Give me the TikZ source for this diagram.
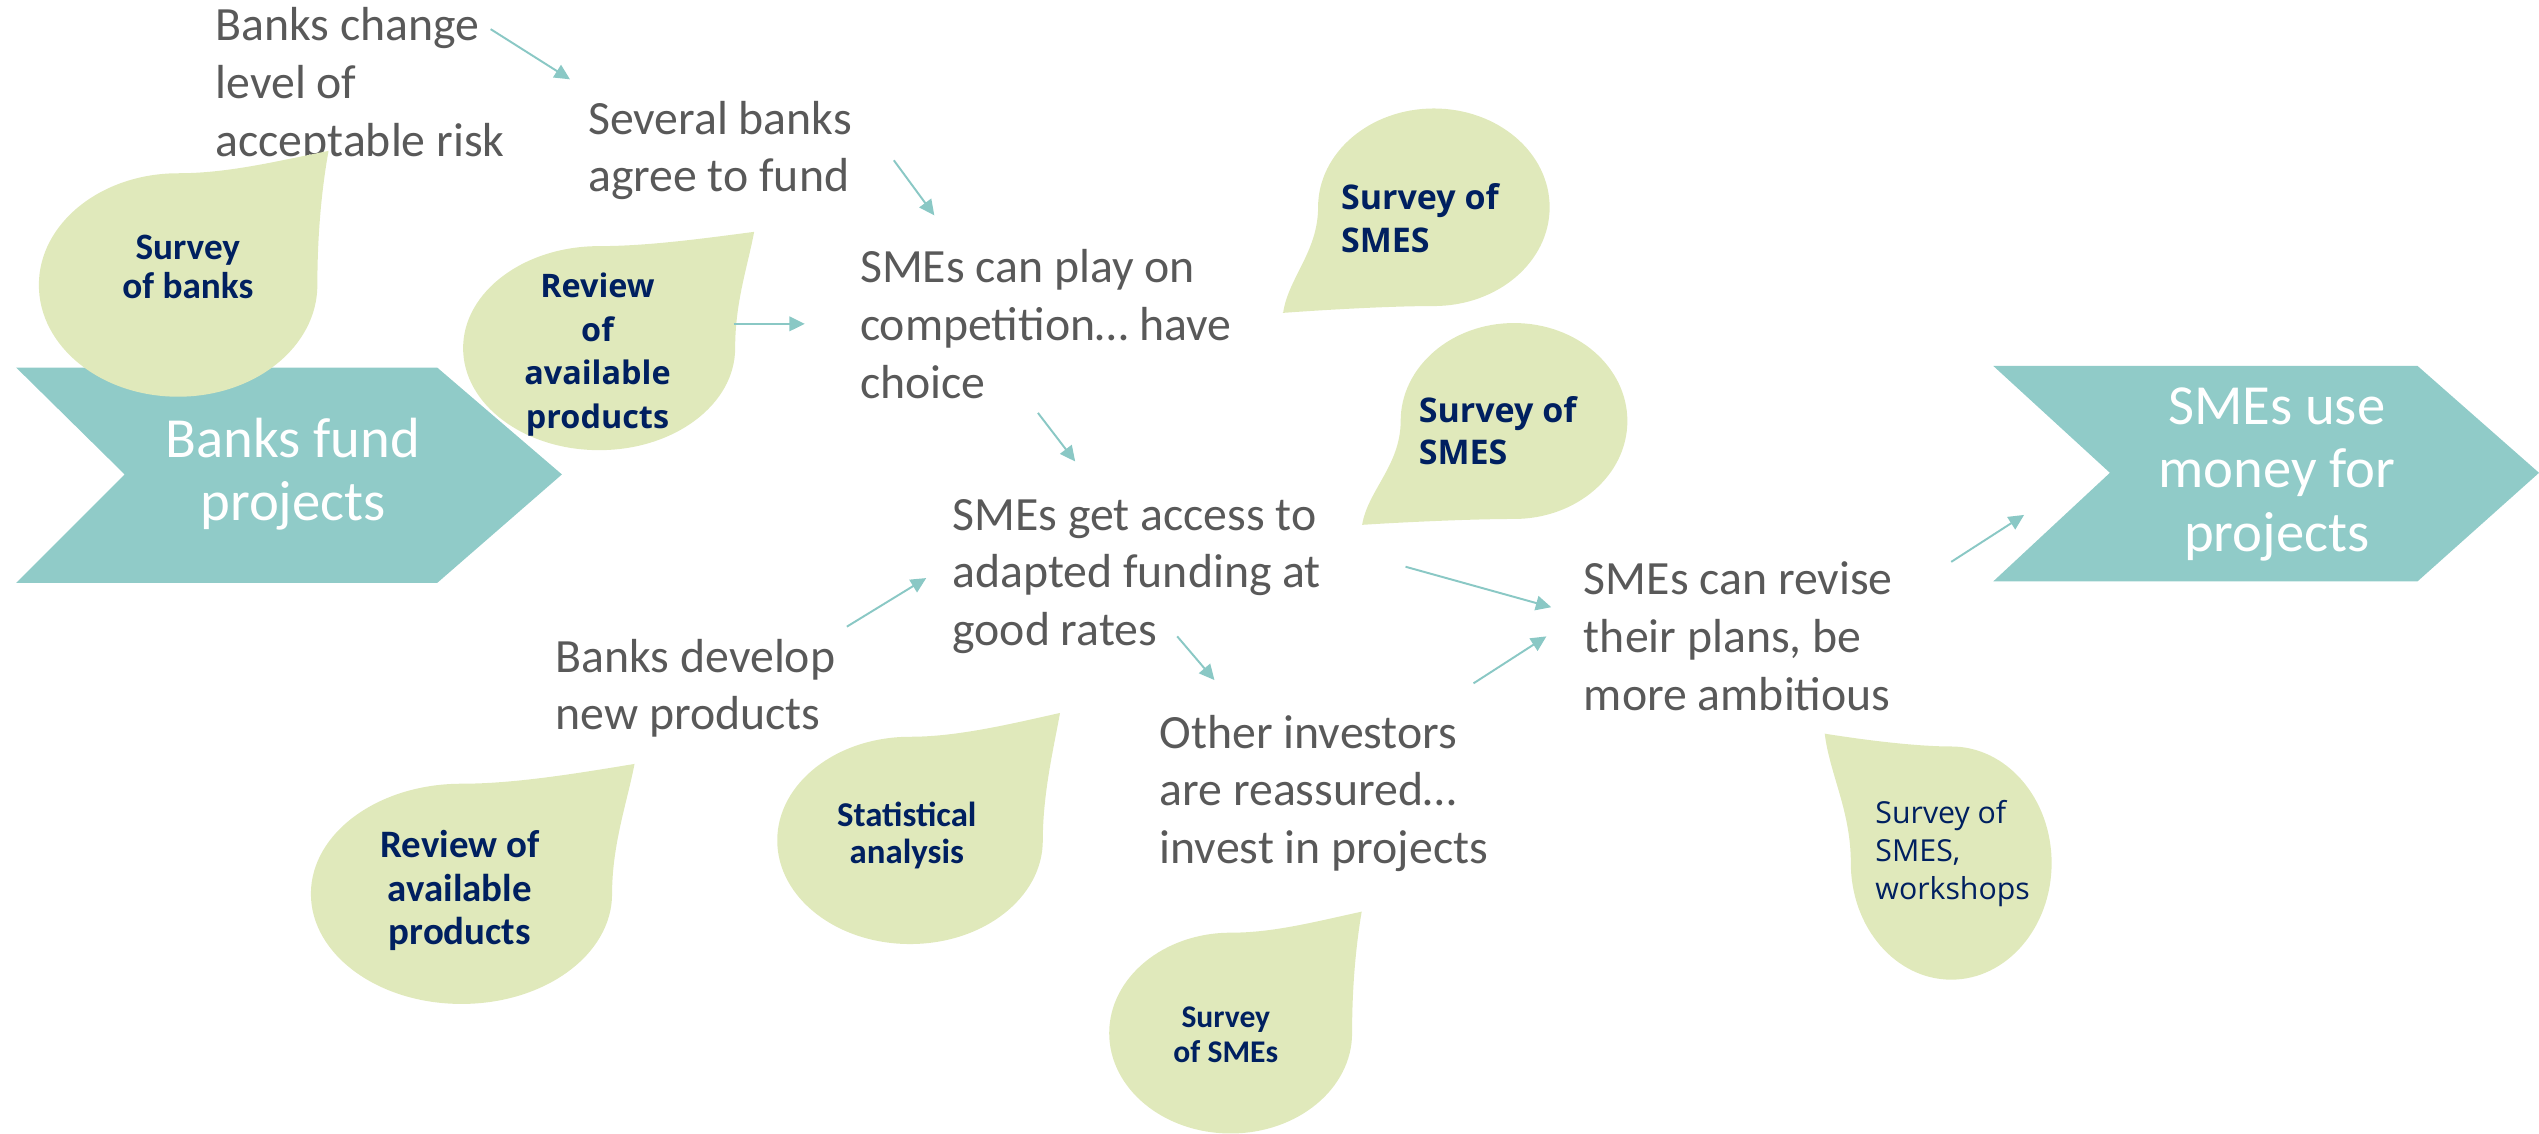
\documentclass[tikz,border=0pt]{standalone}
\usepackage{fontspec}
\setmainfont{Carlito}
\newfontfamily\segoe{Open Sans}
\usetikzlibrary{arrows.meta}

\definecolor{chevfill}{RGB}{144,203,200}
\definecolor{leaffill}{RGB}{224,233,187}
\definecolor{navy}{RGB}{0,32,96}
\definecolor{txtgray}{RGB}{89,89,89}
\definecolor{linkc}{RGB}{138,200,197}

\tikzset{
  claim/.style={anchor=west, align=left, inner sep=0pt, text=txtgray,
    font=\fontsize{29.5}{35.7}\selectfont},
  stage/.style={align=center, inner sep=0pt, text=white,
    font=\fontsize{35}{39}\selectfont},
  evid/.style={align=center, inner sep=0pt, text=navy},
  link/.style={draw=linkc, line width=1.2pt,
    -{Triangle[length=9.5pt,width=9pt]}},
  % unit drop: round body of radius 1, tip at (#1,#2)
  pics/leaf/.style 2 args={code={
    \fill[leaffill] (#1,#2) .. controls ({#1-0.4},{(#2+1)/2}) and (0.35,1) .. (0,1)
      arc[start angle=90, end angle=360, radius=1]
      .. controls (1,0.45) and ({#1-0.05},{#2-0.35}) .. cycle;
  }}
}

\begin{document}
\begin{tikzpicture}[x=1pt, y=-1pt]
\useasboundingbox (0,0) rectangle (1568,700);

% stage chevrons
\fill[chevfill] (10,227) -- (270,227) -- (347,293) -- (270,360) -- (10,360) -- (77,293) -- cycle;
\fill[chevfill] (1231,226) -- (1493,226) -- (1568,292) -- (1493,359) -- (1231,359) -- (1303,292) -- cycle;
\node[stage] (start) at (181,293) {Banks fund\\projects};
\node[stage] (goal) at (1406,293) {SMEs use\\money for\\projects};

% chain of intermediate outcomes
\node[claim] (risk)   at (133,53)  {Banks change\\level of\\acceptable risk};
\node[claim] (several) at (363,93) {Several banks\\agree to fund};
\node[claim] (choice) at (531,200) {SMEs can play on\\competition… have\\choice};
\node[claim] (access) at (588,356) {SMEs get access to\\adapted funding at\\good rates};
\node[claim] (develop) at (343,425) {Banks develop\\new products};
\node[claim] (invest) at (716,490) {Other investors\\are reassured…\\invest in projects};
\node[claim] (revise) at (978,393) {SMEs can revise\\their plans, be\\more ambitious};

% evidence drops
\pic[xscale=86, yscale=-69] at (110,176) {leaf={1.08}{1.2}};
\pic[xscale=84, yscale=-63] at (370,215) {leaf={1.14}{1.14}};
\pic[xscale=-71.5, yscale=61] at (885.5,128) {leaf={1.31}{1.07}};
\pic[xscale=-70, yscale=60.5] at (935,260) {leaf={1.34}{1.06}};
\pic[xscale=93, yscale=-68] at (285,552) {leaf={1.15}{1.18}};
\pic[xscale=82, yscale=-64] at (562,519) {leaf={1.13}{1.23}};
\pic[xscale=75, yscale=-62] at (760,638) {leaf={1.08}{1.21}};
\pic[xscale=-62, yscale=-72] at (1205,533) {leaf={1.26}{1.11}};

\node[evid, font=\fontsize{23}{24}\selectfont\bfseries] (ev1) at (116,165) {Survey\\of banks};
\node[evid, font=\segoe\fontsize{20}{27}\selectfont\bfseries] (ev2) at (369,219) {Review\\of\\available\\products};
\node[evid, anchor=west, align=left, font=\segoe\fontsize{21}{26.5}\selectfont\bfseries] (ev3) at (828,135) {Survey of\\SMES};
\node[evid, anchor=west, align=left, font=\segoe\fontsize{21}{26}\selectfont\bfseries] (ev4) at (876,266) {Survey of\\SMES};
\node[evid, font=\fontsize{24}{27}\selectfont\bfseries] (ev5) at (284,550) {Review of\\available\\products};
\node[evid, font=\fontsize{21.5}{23}\selectfont\bfseries] (ev6) at (560,516) {Statistical\\analysis};
\node[evid, font=\fontsize{19.5}{22}\selectfont\bfseries] (ev7) at (757,639) {Survey\\of SMEs};
\node[evid, anchor=west, align=left, font=\segoe\fontsize{18.7}{23.5}\selectfont] (ev8) at (1158,527) {Survey of\\SMES,\\workshops};

% connector ends
\coordinate (r1) at (303,18);   \coordinate (s1) at (352,49);
\coordinate (r2) at (552,99);   \coordinate (s2) at (577,133);
\coordinate (r3) at (453,200);  \coordinate (s3) at (497,200);
\coordinate (r4) at (641,255);  \coordinate (s4) at (664,285);
\coordinate (r5) at (523,387);  \coordinate (s5) at (572,357);
\coordinate (r6) at (868,350);  \coordinate (s6) at (958,375);
\coordinate (r7) at (727,393);  \coordinate (s7) at (750,420);
\coordinate (r8) at (910,422);  \coordinate (s8) at (955,393);
\coordinate (r9) at (1205,347); \coordinate (s9) at (1250,318);

\draw[link] (r1) -- (s1);
\draw[link] (r2) -- (s2);
\draw[link] (r3) -- (s3);
\draw[link] (r4) -- (s4);
\draw[link] (r5) -- (s5);
\draw[link] (r6) -- (s6);
\draw[link] (r7) -- (s7);
\draw[link] (r8) -- (s8);
\draw[link] (r9) -- (s9);
\end{tikzpicture}
\end{document}
